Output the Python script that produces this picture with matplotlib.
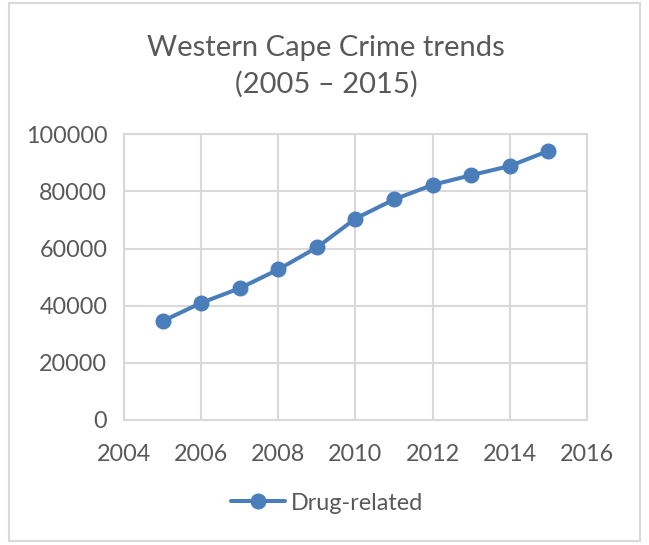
import matplotlib
matplotlib.use("Agg")
import matplotlib.pyplot as plt
from matplotlib.patches import Rectangle

years = [2005, 2006, 2007, 2008, 2009, 2010, 2011, 2012, 2013, 2014, 2015]
drug_related = [34600, 41000, 46100, 52700, 60400, 70500, 77200, 82300, 85700, 88900, 94200]
series_name = "Drug-related"
title = "Western Cape Crime trends\n(2005 \u2013 2015)"
xticks = [2004, 2006, 2008, 2010, 2012, 2014, 2016]
yticks = [0, 20000, 40000, 60000, 80000, 100000]

plt.rcParams['font.family'] = ['Lato', 'DejaVu Sans']
txt = '#595959'
grid = '#d9d9d9'
blue = '#4a7ebb'

fig = plt.figure(figsize=(6.49, 5.45), dpi=100)
fig.patches.append(Rectangle((9/649, 1-541/545), 631/649, 538/545, transform=fig.transFigure,
                             fill=False, edgecolor='#d9d9d9', linewidth=1.5))
ax = fig.add_axes([124/649, 1-420/545, 463/649, (420-134.3)/545])
ax.plot(years, drug_related, color=blue, linewidth=2.9, marker='o', markersize=10.5,
        label=series_name, solid_capstyle='round')
ax.set_xlim(2004, 2016)
ax.set_ylim(0, 100000)
ax.set_xticks(xticks)
ax.set_yticks(yticks)
ax.set_xticklabels([str(t) for t in xticks])
ax.set_yticklabels([str(t) for t in yticks])
ax.grid(True, color=grid, linewidth=1.5)
ax.set_axisbelow(True)
for s in ax.spines.values():
    s.set_color(grid)
    s.set_linewidth(1.5)
ax.tick_params(length=0, labelsize=16.8, colors=txt)
ax.tick_params(axis='x', pad=17)
ax.tick_params(axis='y', pad=12)
fig.text(326/649, 1-66/545, title, ha='center', va='center', fontsize=21, color=txt,
         linespacing=1.45)
leg = fig.legend(loc='center', bbox_to_anchor=(327/649, 1-503/545), frameon=False,
                 fontsize=16.8, labelcolor=txt, handlelength=2.3, handletextpad=0.25)
fig.savefig('out.png', dpi=100)
